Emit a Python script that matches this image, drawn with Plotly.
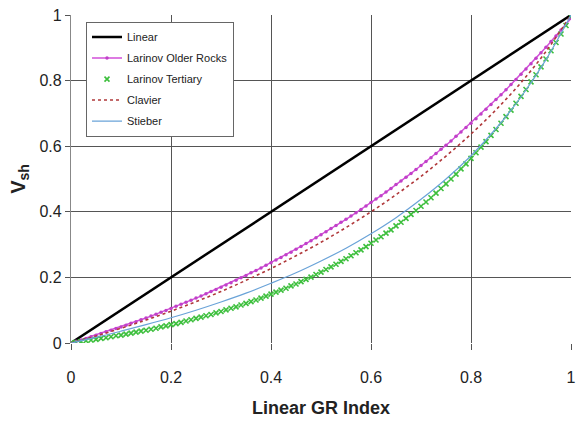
import plotly.graph_objects as go

# Linear GR index sampling
gr_fine = [round(i * 0.01, 2) for i in range(101)]
gr_coarse = [round(i * 0.05, 2) for i in range(21)]
gr_linear = [0.0, 1.0]

vsh_linear = [0.0, 1.0]

vsh_larionov_older = [
    0.000, 0.005, 0.009, 0.014, 0.019, 0.024, 0.029, 0.034, 0.039, 0.044,
    0.049, 0.054, 0.060, 0.065, 0.071, 0.076, 0.082, 0.088, 0.094, 0.099,
    0.105, 0.112, 0.118, 0.124, 0.130, 0.137, 0.143, 0.150, 0.157, 0.163,
    0.170, 0.177, 0.184, 0.191, 0.199, 0.206, 0.214, 0.221, 0.229, 0.237,
    0.245, 0.253, 0.261, 0.269, 0.277, 0.286, 0.294, 0.303, 0.312, 0.321,
    0.330, 0.339, 0.349, 0.358, 0.368, 0.377, 0.387, 0.397, 0.407, 0.418,
    0.428, 0.439, 0.449, 0.460, 0.471, 0.483, 0.494, 0.505, 0.517, 0.529,
    0.541, 0.553, 0.565, 0.578, 0.591, 0.603, 0.616, 0.630, 0.643, 0.657,
    0.670, 0.684, 0.698, 0.713, 0.727, 0.742, 0.757, 0.772, 0.788, 0.803,
    0.819, 0.835, 0.851, 0.868, 0.885, 0.902, 0.919, 0.936, 0.954, 0.972,
    0.990,
]

vsh_larionov_tertiary = [
    0.000, 0.002, 0.004, 0.007, 0.009, 0.011, 0.014, 0.016, 0.019, 0.022,
    0.024, 0.027, 0.030, 0.033, 0.036, 0.039, 0.042, 0.045, 0.049, 0.052,
    0.056, 0.059, 0.063, 0.067, 0.071, 0.075, 0.079, 0.083, 0.087, 0.092,
    0.096, 0.101, 0.106, 0.110, 0.116, 0.121, 0.126, 0.131, 0.137, 0.143,
    0.149, 0.155, 0.161, 0.167, 0.174, 0.180, 0.187, 0.194, 0.201, 0.209,
    0.216, 0.224, 0.232, 0.240, 0.249, 0.257, 0.266, 0.275, 0.284, 0.294,
    0.304, 0.314, 0.324, 0.335, 0.345, 0.357, 0.368, 0.380, 0.392, 0.404,
    0.417, 0.430, 0.443, 0.457, 0.471, 0.485, 0.500, 0.515, 0.531, 0.546,
    0.563, 0.580, 0.597, 0.614, 0.633, 0.651, 0.670, 0.690, 0.710, 0.731,
    0.752, 0.773, 0.796, 0.818, 0.842, 0.866, 0.891, 0.916, 0.942, 0.968,
    0.996,
]

vsh_clavier = [
    0.000, 0.021, 0.045, 0.070, 0.097, 0.126, 0.157, 0.191, 0.227, 0.266,
    0.307, 0.352, 0.400, 0.452, 0.508, 0.570, 0.637, 0.711, 0.794, 0.889,
    1.000,
]

vsh_stieber = [
    0.000, 0.017, 0.036, 0.056, 0.077, 0.100, 0.125, 0.152, 0.182, 0.214,
    0.250, 0.289, 0.333, 0.382, 0.438, 0.500, 0.571, 0.654, 0.750, 0.864,
    1.000,
]

tick_vals = [0, 0.2, 0.4, 0.6, 0.8, 1]
tick_text = ["0", "0.2", "0.4", "0.6", "0.8", "1"]

fig = go.Figure()
fig.add_trace(go.Scatter(x=gr_linear, y=vsh_linear, mode="lines", name="Linear",
                         legendgroup="a",
                         line=dict(color="black", width=2.5)))
fig.add_trace(go.Scatter(x=gr_fine, y=vsh_larionov_older, mode="lines+markers",
                         name="Larinov Older Rocks", legendgroup="b",
                         line=dict(color="#d24fd8", width=1.5),
                         marker=dict(symbol="circle", size=3.5, color="#c040c8")))
fig.add_trace(go.Scatter(x=gr_fine, y=vsh_larionov_tertiary, mode="markers",
                         name="Larinov Tertiary", legendgroup="c",
                         marker=dict(symbol="x-thin", size=5, color="#3cbf3c",
                                     line=dict(color="#3cbf3c", width=1.6))))
fig.add_trace(go.Scatter(x=gr_coarse, y=vsh_clavier, mode="lines", name="Clavier",
                         legendgroup="d",
                         line=dict(color="#b0383a", width=1.6, dash="dot", shape="spline")))
fig.add_trace(go.Scatter(x=gr_coarse, y=vsh_stieber, mode="lines", name="Stieber",
                         legendgroup="e",
                         line=dict(color="#6aa3d8", width=1.2, shape="spline")))

font_family = "Liberation Sans, Arial, sans-serif"

fig.update_layout(
    width=583, height=425,
    margin=dict(l=71, r=7, t=10, b=82),
    paper_bgcolor="white", plot_bgcolor="white",
    font=dict(family=font_family, color="#222", size=16),
    showlegend=True,
    legend=dict(x=0.03, y=0.98, xanchor="left", yanchor="top",
                bgcolor="white", bordercolor="#666", borderwidth=1,
                font=dict(size=11, color="#222"), tracegroupgap=2,
                itemwidth=30),
    xaxis=dict(range=[0, 1], tickvals=tick_vals, ticktext=tick_text,
               showgrid=True, gridcolor="#555", gridwidth=1.3,
               zeroline=False, showline=False,
               ticks="outside", ticklen=6, tickcolor="#555",
               ticklabelstandoff=14,
               tickfont=dict(size=16),
               title=dict(text="<b>Linear GR Index</b>", font=dict(size=18), standoff=16)),
    yaxis=dict(range=[0, 1], tickvals=tick_vals, ticktext=tick_text,
               showgrid=True, gridcolor="#555", gridwidth=1.3,
               zeroline=False, showline=True, linecolor="#888", linewidth=1.3,
               ticks="outside", ticklen=5, tickcolor="#555",
               tickfont=dict(size=16),
               title=dict(text="<b>V<sub>sh</sub></b>", font=dict(size=20), standoff=8)),
)

fig.write_html("out.html")
